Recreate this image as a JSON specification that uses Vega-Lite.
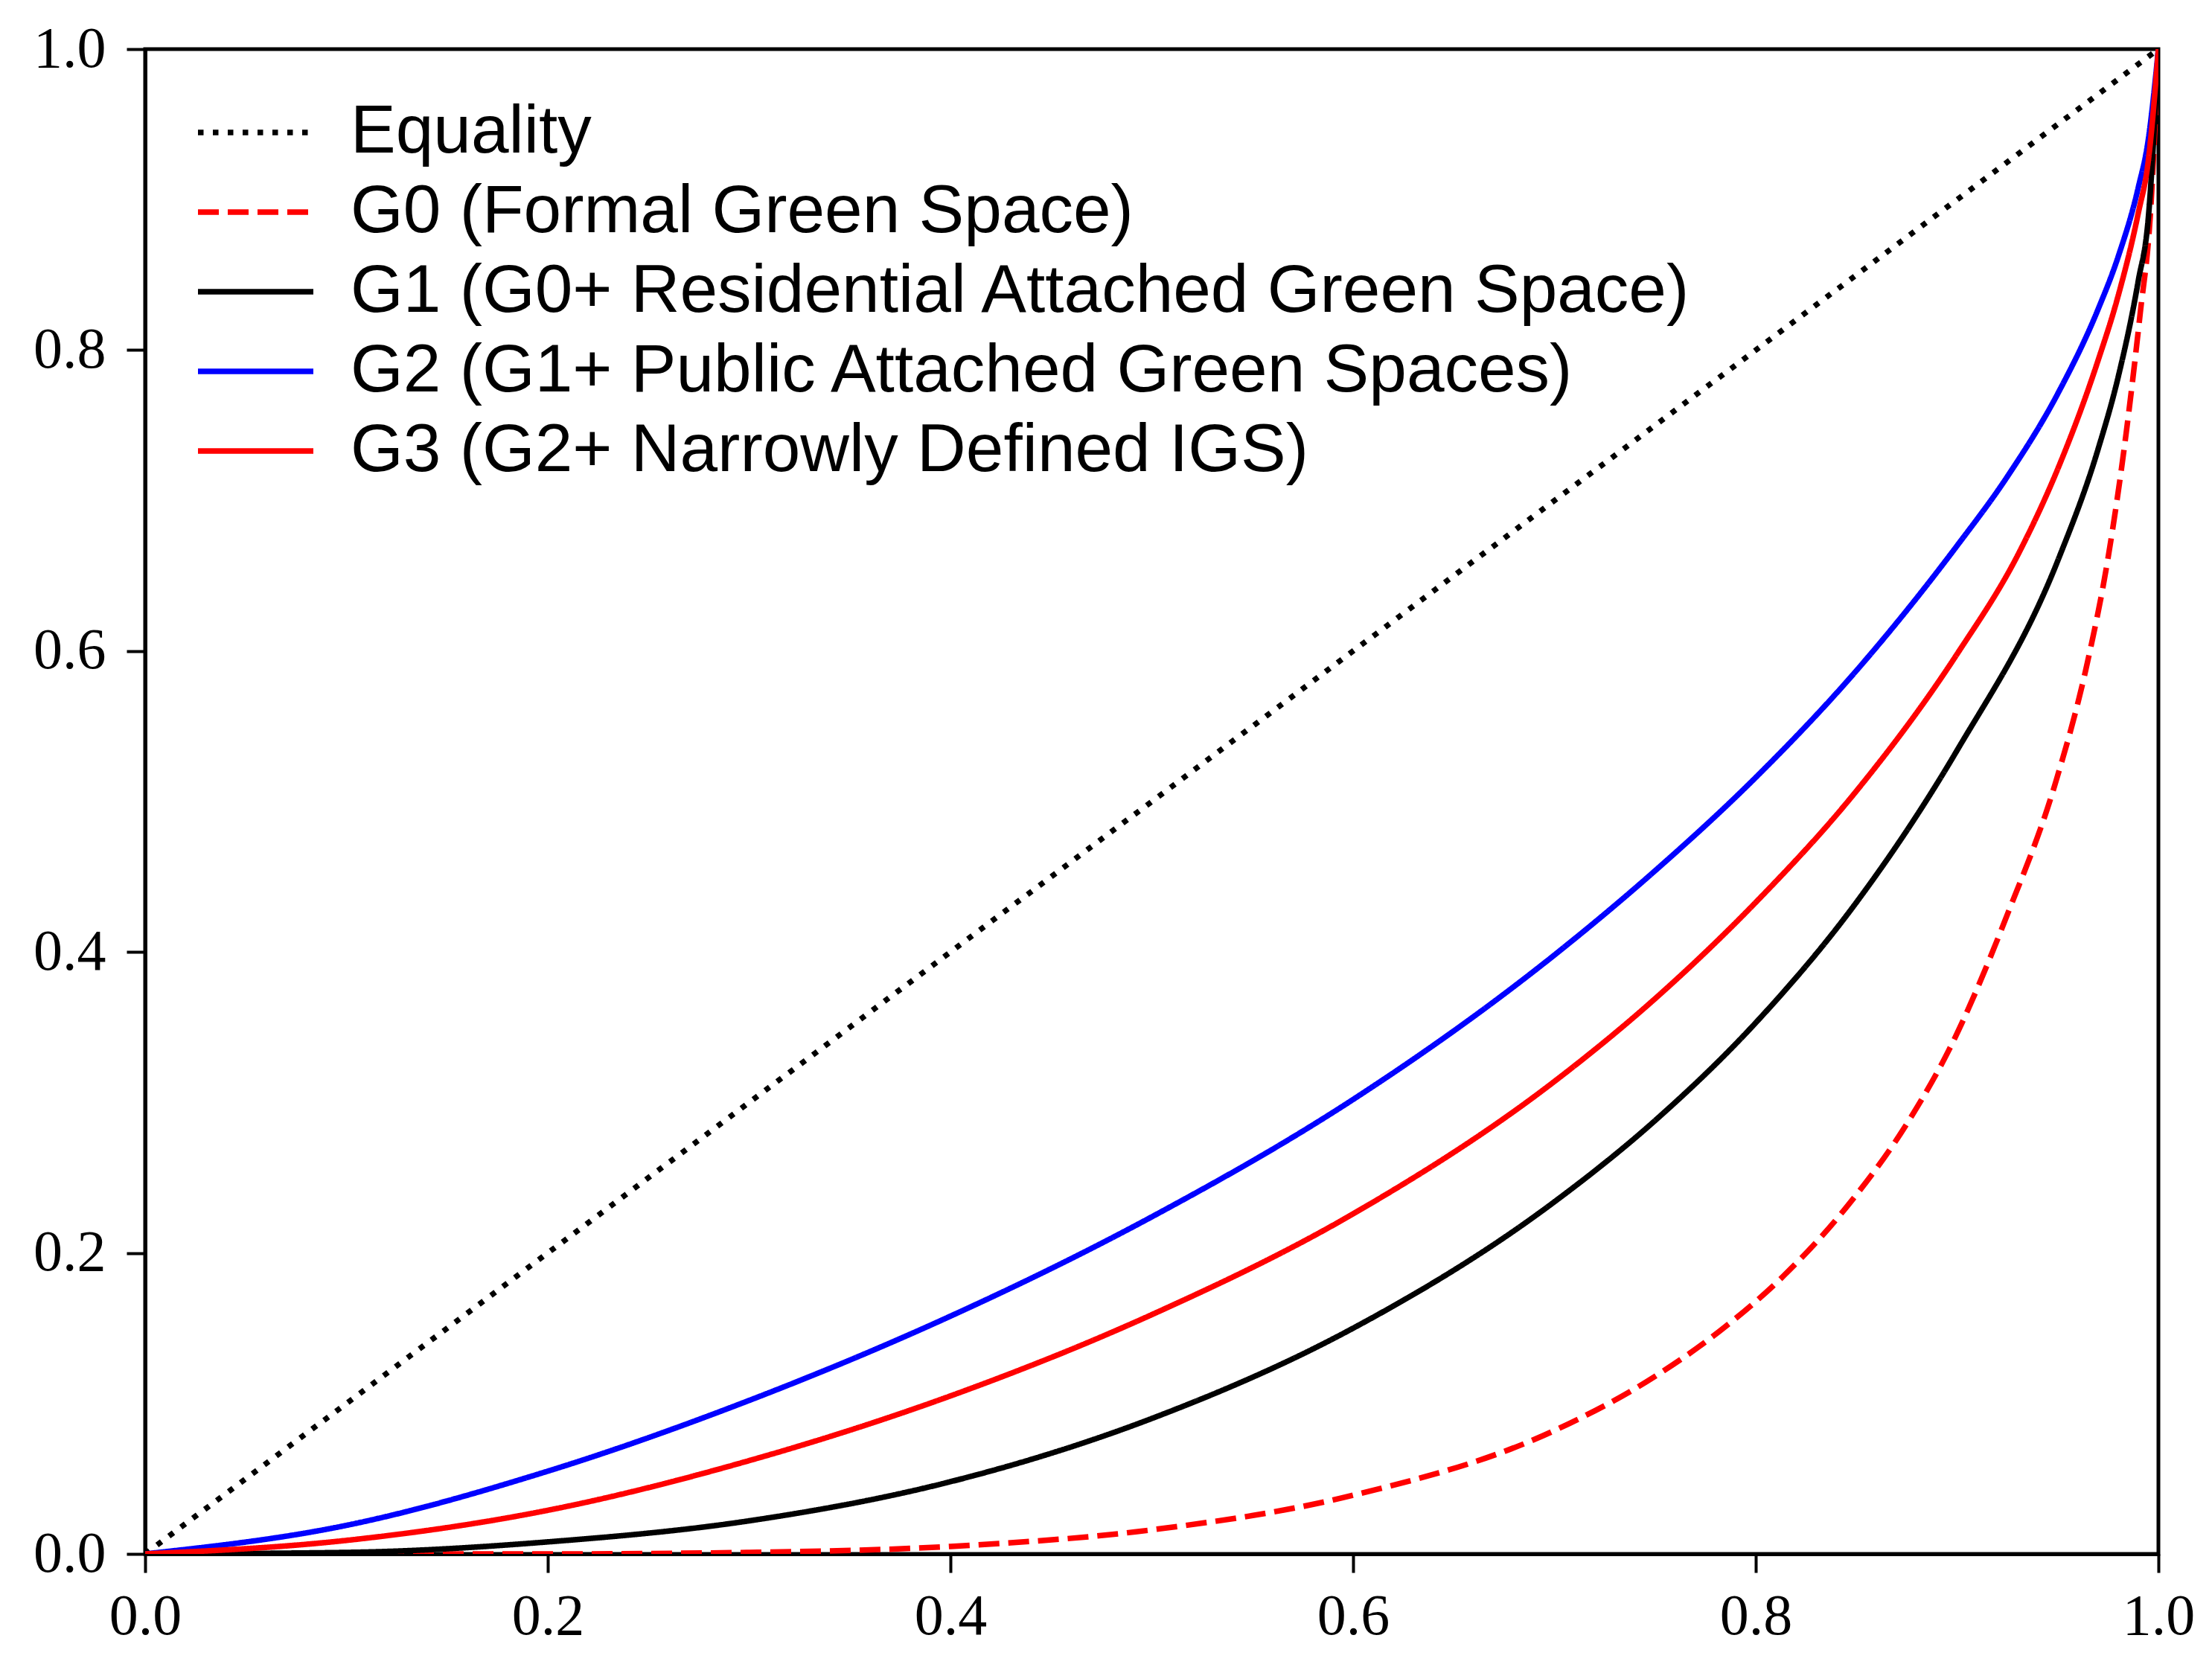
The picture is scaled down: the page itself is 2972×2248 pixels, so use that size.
{
  "$schema": "https://vega.github.io/schema/vega-lite/v6.json",
  "width": 2705,
  "height": 2022,
  "autosize": "none",
  "padding": {"left": 195, "top": 66, "right": 72, "bottom": 160},
  "background": "white",
  "config": {
    "view": {"stroke": "black", "strokeWidth": 5},
    "axis": {
      "grid": false,
      "domainColor": "black",
      "domainWidth": 5,
      "tickColor": "black",
      "tickWidth": 4,
      "tickSize": 25,
      "labelFont": "Liberation Serif",
      "labelFontSize": 78,
      "labelColor": "black",
      "title": null
    }
  },
  "data": {
    "values": [
      {"s": "Equality", "x": 0, "y": 0},
      {"s": "Equality", "x": 1, "y": 1},

      {"s": "G0 (Formal Green Space)", "x": 0, "y": 0},
      {"s": "G0 (Formal Green Space)", "x": 0.2, "y": 0.0},
      {"s": "G0 (Formal Green Space)", "x": 0.3, "y": 0.001},
      {"s": "G0 (Formal Green Space)", "x": 0.4, "y": 0.005},
      {"s": "G0 (Formal Green Space)", "x": 0.5, "y": 0.016},
      {"s": "G0 (Formal Green Space)", "x": 0.6, "y": 0.039},
      {"s": "G0 (Formal Green Space)", "x": 0.7, "y": 0.082},
      {"s": "G0 (Formal Green Space)", "x": 0.75, "y": 0.118},
      {"s": "G0 (Formal Green Space)", "x": 0.782, "y": 0.148},
      {"s": "G0 (Formal Green Space)", "x": 0.814, "y": 0.185},
      {"s": "G0 (Formal Green Space)", "x": 0.846, "y": 0.232},
      {"s": "G0 (Formal Green Space)", "x": 0.877, "y": 0.29},
      {"s": "G0 (Formal Green Space)", "x": 0.896, "y": 0.335},
      {"s": "G0 (Formal Green Space)", "x": 0.925, "y": 0.425},
      {"s": "G0 (Formal Green Space)", "x": 0.949, "y": 0.513},
      {"s": "G0 (Formal Green Space)", "x": 0.964, "y": 0.588},
      {"s": "G0 (Formal Green Space)", "x": 0.975, "y": 0.662},
      {"s": "G0 (Formal Green Space)", "x": 0.984, "y": 0.745},
      {"s": "G0 (Formal Green Space)", "x": 0.991, "y": 0.825},
      {"s": "G0 (Formal Green Space)", "x": 0.996, "y": 0.89},
      {"s": "G0 (Formal Green Space)", "x": 1, "y": 1},

      {"s": "G1 (G0+ Residential Attached Green Space)", "x": 0, "y": 0},
      {"s": "G1 (G0+ Residential Attached Green Space)", "x": 0.1, "y": 0.001},
      {"s": "G1 (G0+ Residential Attached Green Space)", "x": 0.2, "y": 0.008},
      {"s": "G1 (G0+ Residential Attached Green Space)", "x": 0.3, "y": 0.022},
      {"s": "G1 (G0+ Residential Attached Green Space)", "x": 0.4, "y": 0.048},
      {"s": "G1 (G0+ Residential Attached Green Space)", "x": 0.5, "y": 0.09},
      {"s": "G1 (G0+ Residential Attached Green Space)", "x": 0.6, "y": 0.15},
      {"s": "G1 (G0+ Residential Attached Green Space)", "x": 0.7, "y": 0.234},
      {"s": "G1 (G0+ Residential Attached Green Space)", "x": 0.75, "y": 0.288},
      {"s": "G1 (G0+ Residential Attached Green Space)", "x": 0.8, "y": 0.353},
      {"s": "G1 (G0+ Residential Attached Green Space)", "x": 0.85, "y": 0.433},
      {"s": "G1 (G0+ Residential Attached Green Space)", "x": 0.9, "y": 0.534},
      {"s": "G1 (G0+ Residential Attached Green Space)", "x": 0.95, "y": 0.66},
      {"s": "G1 (G0+ Residential Attached Green Space)", "x": 0.97, "y": 0.734},
      {"s": "G1 (G0+ Residential Attached Green Space)", "x": 0.98, "y": 0.782},
      {"s": "G1 (G0+ Residential Attached Green Space)", "x": 0.99, "y": 0.846},
      {"s": "G1 (G0+ Residential Attached Green Space)", "x": 0.995, "y": 0.888},
      {"s": "G1 (G0+ Residential Attached Green Space)", "x": 1, "y": 1},

      {"s": "G2 (G1+ Public Attached Green Spaces)", "x": 0, "y": 0},
      {"s": "G2 (G1+ Public Attached Green Spaces)", "x": 0.1, "y": 0.019},
      {"s": "G2 (G1+ Public Attached Green Spaces)", "x": 0.2, "y": 0.055},
      {"s": "G2 (G1+ Public Attached Green Spaces)", "x": 0.3, "y": 0.102},
      {"s": "G2 (G1+ Public Attached Green Spaces)", "x": 0.4, "y": 0.158},
      {"s": "G2 (G1+ Public Attached Green Spaces)", "x": 0.5, "y": 0.224},
      {"s": "G2 (G1+ Public Attached Green Spaces)", "x": 0.6, "y": 0.302},
      {"s": "G2 (G1+ Public Attached Green Spaces)", "x": 0.7, "y": 0.398},
      {"s": "G2 (G1+ Public Attached Green Spaces)", "x": 0.75, "y": 0.454},
      {"s": "G2 (G1+ Public Attached Green Spaces)", "x": 0.8, "y": 0.516},
      {"s": "G2 (G1+ Public Attached Green Spaces)", "x": 0.85, "y": 0.587},
      {"s": "G2 (G1+ Public Attached Green Spaces)", "x": 0.9, "y": 0.67},
      {"s": "G2 (G1+ Public Attached Green Spaces)", "x": 0.925, "y": 0.716},
      {"s": "G2 (G1+ Public Attached Green Spaces)", "x": 0.95, "y": 0.771},
      {"s": "G2 (G1+ Public Attached Green Spaces)", "x": 0.97, "y": 0.827},
      {"s": "G2 (G1+ Public Attached Green Spaces)", "x": 0.98, "y": 0.862},
      {"s": "G2 (G1+ Public Attached Green Spaces)", "x": 0.99, "y": 0.908},
      {"s": "G2 (G1+ Public Attached Green Spaces)", "x": 0.995, "y": 0.94},
      {"s": "G2 (G1+ Public Attached Green Spaces)", "x": 1, "y": 1},

      {"s": "G3 (G2+ Narrowly Defined IGS)", "x": 0, "y": 0},
      {"s": "G3 (G2+ Narrowly Defined IGS)", "x": 0.1, "y": 0.009},
      {"s": "G3 (G2+ Narrowly Defined IGS)", "x": 0.2, "y": 0.029},
      {"s": "G3 (G2+ Narrowly Defined IGS)", "x": 0.3, "y": 0.062},
      {"s": "G3 (G2+ Narrowly Defined IGS)", "x": 0.4, "y": 0.105},
      {"s": "G3 (G2+ Narrowly Defined IGS)", "x": 0.5, "y": 0.159},
      {"s": "G3 (G2+ Narrowly Defined IGS)", "x": 0.6, "y": 0.226},
      {"s": "G3 (G2+ Narrowly Defined IGS)", "x": 0.7, "y": 0.314},
      {"s": "G3 (G2+ Narrowly Defined IGS)", "x": 0.75, "y": 0.369},
      {"s": "G3 (G2+ Narrowly Defined IGS)", "x": 0.8, "y": 0.433},
      {"s": "G3 (G2+ Narrowly Defined IGS)", "x": 0.85, "y": 0.507},
      {"s": "G3 (G2+ Narrowly Defined IGS)", "x": 0.9, "y": 0.598},
      {"s": "G3 (G2+ Narrowly Defined IGS)", "x": 0.931, "y": 0.666},
      {"s": "G3 (G2+ Narrowly Defined IGS)", "x": 0.95, "y": 0.721},
      {"s": "G3 (G2+ Narrowly Defined IGS)", "x": 0.97, "y": 0.793},
      {"s": "G3 (G2+ Narrowly Defined IGS)", "x": 0.98, "y": 0.836},
      {"s": "G3 (G2+ Narrowly Defined IGS)", "x": 0.99, "y": 0.891},
      {"s": "G3 (G2+ Narrowly Defined IGS)", "x": 0.995, "y": 0.926},
      {"s": "G3 (G2+ Narrowly Defined IGS)", "x": 1, "y": 1}
    ]
  },
  "mark": {"type": "line", "strokeWidth": 7.5, "interpolate": "monotone", "clip": true},
  "encoding": {
    "x": {
      "field": "x",
      "type": "quantitative",
      "scale": {"domain": [0, 1], "nice": false, "zero": false},
      "axis": {"values": [0, 0.2, 0.4, 0.6, 0.8, 1.0], "format": ".1f", "labelPadding": 20, "labelFlush": false}
    },
    "y": {
      "field": "y",
      "type": "quantitative",
      "scale": {"domain": [0, 1], "nice": false, "zero": false},
      "axis": {"values": [0, 0.2, 0.4, 0.6, 0.8, 1.0], "format": ".1f", "labelPadding": 28, "labelFlush": false}
    },
    "order": {"field": "x", "type": "quantitative"},
    "color": {
      "field": "s",
      "type": "nominal",
      "scale": {
        "domain": ["Equality", "G0 (Formal Green Space)", "G1 (G0+ Residential Attached Green Space)", "G2 (G1+ Public Attached Green Spaces)", "G3 (G2+ Narrowly Defined IGS)"],
        "range": ["#000000", "#ff0000", "#000000", "#0000ff", "#ff0000"]
      },
      "legend": {
        "title": null,
        "orient": "none",
        "legendX": 67,
        "legendY": 62,
        "padding": 0,
        "symbolType": "stroke",
        "symbolSize": 24025,
        "symbolStrokeWidth": 7.5,
        "clipHeight": 100,
        "rowPadding": 7,
        "labelOffset": 46,
        "labelFont": "Liberation Sans",
        "labelFontSize": 91,
        "labelColor": "black",
        "labelLimit": 3000
      }
    },
    "strokeDash": {
      "field": "s",
      "type": "nominal",
      "scale": {
        "domain": ["Equality", "G0 (Formal Green Space)", "G1 (G0+ Residential Attached Green Space)", "G2 (G1+ Public Attached Green Spaces)", "G3 (G2+ Narrowly Defined IGS)"],
        "range": [[7.5, 12.5], [28, 12], [1, 0], [1, 0], [1, 0]]
      },
      "legend": {
        "title": null,
        "orient": "none",
        "legendX": 67,
        "legendY": 62,
        "padding": 0,
        "symbolType": "stroke",
        "symbolSize": 24025,
        "symbolStrokeWidth": 7.5,
        "clipHeight": 100,
        "rowPadding": 7,
        "labelOffset": 46,
        "labelFont": "Liberation Sans",
        "labelFontSize": 91,
        "labelColor": "black",
        "labelLimit": 3000
      }
    }
  }
}
